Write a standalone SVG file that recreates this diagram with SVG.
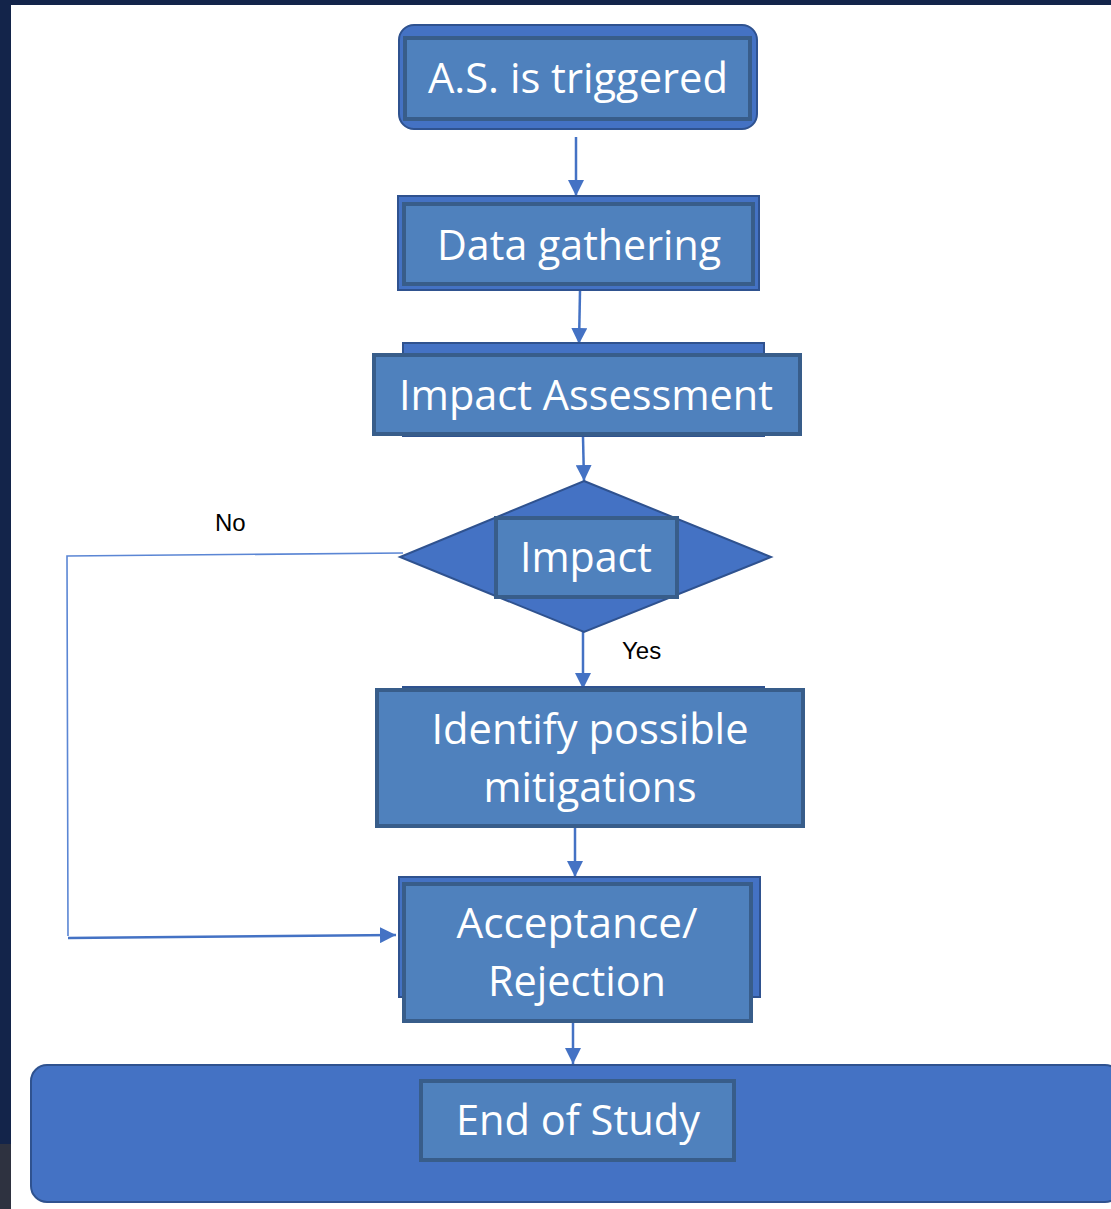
<svg xmlns="http://www.w3.org/2000/svg" width="1111" height="1209" viewBox="0 0 1111 1209">
<style>
.outer{fill:#4472c4;stroke:#2f528f;stroke-width:2}
.inner{fill:#4f81bd;stroke:#385d8a;stroke-width:4}
.t{font-family:"Open Sans","Noto Sans",sans-serif;font-size:42px;fill:#ffffff;text-anchor:middle}
.lbl{font-family:"Liberation Sans",Arial,sans-serif;font-size:24px;fill:#000000}
.conn{fill:none;stroke:#4472c4;stroke-width:2.5}
.thin{fill:none;stroke:#5b86d4;stroke-width:1.6}
</style>
<defs>
<marker id="ah" markerUnits="userSpaceOnUse" markerWidth="18" markerHeight="16" refX="16" refY="8" orient="auto">
<path d="M0,0 L16,8 L0,16 Z" fill="#4472c4"/>
</marker>
</defs>
<rect x="0" y="0" width="1111" height="1209" fill="#ffffff"/>
<rect x="0" y="0" width="1111" height="5" fill="#13244a"/>
<rect x="0" y="0" width="11" height="1144" fill="#13244a"/>
<rect x="0" y="1144" width="11" height="65" fill="#2e3240"/>

<g id="connectors">
<line class="conn" x1="576" y1="137" x2="576" y2="196" marker-end="url(#ah)"/>
<line class="conn" x1="580" y1="291" x2="579" y2="344" marker-end="url(#ah)"/>
<line class="conn" x1="583" y1="437" x2="584" y2="481" marker-end="url(#ah)"/>
<line class="conn" x1="583" y1="632" x2="583" y2="689" marker-end="url(#ah)"/>
<line class="conn" x1="575" y1="827" x2="575" y2="877" marker-end="url(#ah)"/>
<line class="conn" x1="573" y1="1022" x2="573" y2="1064" marker-end="url(#ah)"/>
<polyline class="thin" points="403,553 67,556 68,936"/>
<line class="conn" x1="68" y1="938" x2="396" y2="935" marker-end="url(#ah)"/>
<text class="lbl" x="215" y="531">No</text>
<text class="lbl" x="622" y="659">Yes</text>
</g>

<g id="node-triggered">
<rect class="outer" x="399" y="25" width="358" height="104" rx="15"/>
<rect class="inner" x="405" y="38" width="345" height="81"/>
<text class="t" x="578" y="93" textLength="300" lengthAdjust="spacingAndGlyphs">A.S. is triggered</text>
</g>

<g id="node-data">
<rect class="outer" x="398" y="196" width="361" height="94"/>
<rect class="inner" x="404" y="204" width="349" height="80"/>
<text class="t" x="579" y="260" textLength="284" lengthAdjust="spacingAndGlyphs">Data gathering</text>
</g>

<g id="node-assessment">
<rect class="outer" x="403" y="343" width="361" height="93"/>
<rect class="inner" x="374" y="355" width="426" height="79"/>
<text class="t" x="586" y="410" textLength="374" lengthAdjust="spacingAndGlyphs">Impact Assessment</text>
</g>

<g id="node-impact">
<polygon class="outer" points="584,481 771,557 584,632 400,557"/>
<rect class="inner" x="496" y="518" width="181" height="79"/>
<text class="t" x="586" y="572" textLength="132" lengthAdjust="spacingAndGlyphs">Impact</text>
</g>

<g id="node-mitigations">
<rect class="outer" x="403" y="687" width="361" height="138"/>
<rect class="inner" x="377" y="690" width="426" height="136"/>
<text class="t" x="590" y="744" textLength="317" lengthAdjust="spacingAndGlyphs">Identify possible</text>
<text class="t" x="590" y="802" textLength="213" lengthAdjust="spacingAndGlyphs">mitigations</text>
</g>

<g id="node-acceptance">
<rect class="outer" x="399" y="877" width="361" height="120"/>
<rect class="inner" x="404" y="884" width="347" height="137"/>
<text class="t" x="577" y="938" textLength="241" lengthAdjust="spacingAndGlyphs">Acceptance/</text>
<text class="t" x="577" y="996" textLength="178" lengthAdjust="spacingAndGlyphs">Rejection</text>
</g>

<g id="node-end">
<rect class="outer" x="31" y="1065" width="1090" height="137" rx="16"/>
<rect class="inner" x="421" y="1081" width="313" height="79"/>
<text class="t" x="578" y="1135" textLength="244" lengthAdjust="spacingAndGlyphs">End of Study</text>
</g>
</svg>
